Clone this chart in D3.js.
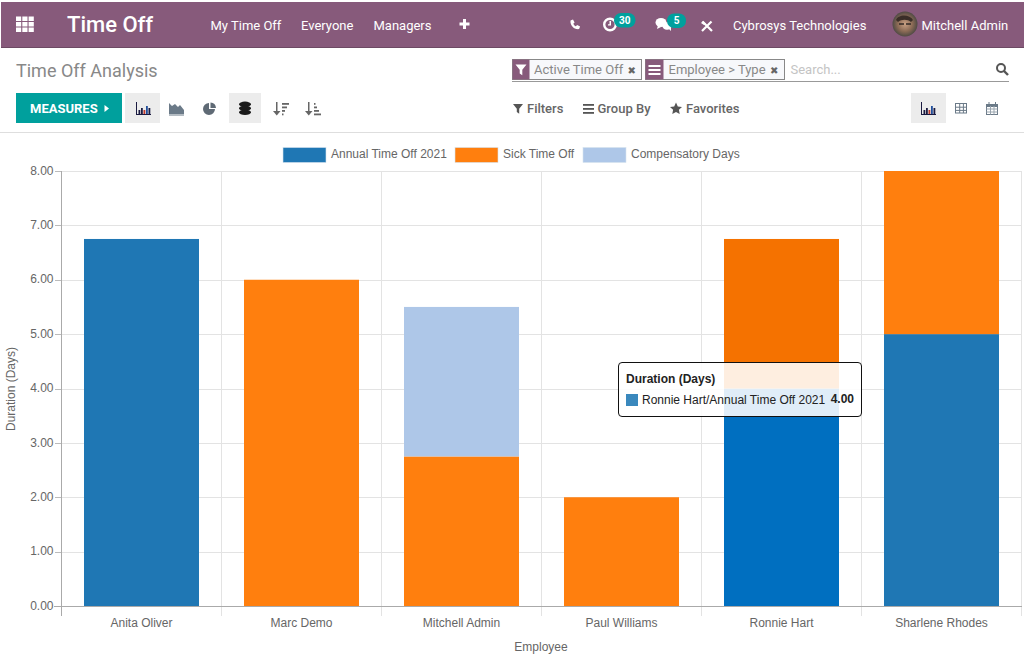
<!DOCTYPE html>
<html><head><meta charset="utf-8">
<script src="https://d3js.org/d3.v7.min.js"></script>
<style>
html,body{margin:0;padding:0;background:#fff;overflow:hidden}
svg{display:block}
.ui{font-family:Roboto,sans-serif}
.chart text{font-family:"Liberation Sans",Arial,sans-serif}
.axis text{font-size:12px;fill:#666}
.axis path,.axis line{shape-rendering:crispEdges}
</style></head><body>
<svg id="c" width="1024" height="660"></svg>
<script>
const categories = ["Anita Oliver","Marc Demo","Mitchell Admin","Paul Williams","Ronnie Hart","Sharlene Rhodes"];
const seriesNames = ["Annual Time Off 2021","Sick Time Off","Compensatory Days"];
const annualTimeOff = [6.75,0,0,0,4,5];
const sickTimeOff = [0,6,2.75,2,2.75,3];
const compensatoryDays = [0,0,2.75,0,0,0];
const seriesColors = ["#1f77b4","#ff7f0e","#aec7e8"];
const hoverColors = ["#006fc0","#f57200","#aec7e8"];
const hoveredCategory = "Ronnie Hart";
const yTicks = [0,1,2,3,4,5,6,7,8];
const menuItems = [["My Time Off",210.5],["Everyone",301],["Managers",373.5]];

const svg = d3.select("#c");
/* ---------- Odoo chrome ---------- */
const ui = svg.append("g").attr("class","ui");
const T=(s,x,y,size,fill,extra={})=>{const t=ui.append("text").text(s).attr("x",x).attr("y",y).attr("font-size",size).attr("fill",fill);
  Object.entries(extra).forEach(([k,v])=>t.attr(k,v));return t;};
const R=(x,y,w,h,fill,extra={})=>{const t=ui.append("rect").attr("x",x).attr("y",y).attr("width",w).attr("height",h).attr("fill",fill);
  Object.entries(extra).forEach(([k,v])=>t.attr(k,v));return t;};
const P=(d,fill,extra={})=>{const t=ui.append("path").attr("d",d).attr("fill",fill);
  Object.entries(extra).forEach(([k,v])=>t.attr(k,v));return t;};
R(1,2,1023,45.5,"#875a7b");
R(1,47,1023,1,"#6d4a64");
// apps grid
for(let i=0;i<3;i++)for(let j=0;j<3;j++)R(16+i*6.3,16.5+j*5.5,5.2,4.5,"#fff");
T("Time Off",67,32,22,"#fff",{"font-weight":500});
menuItems.forEach(m=>T(m[0],m[1],29.5,13,"#fff"));
P("M460 23h3.5v-3.5h3V23h3.500v3h-3.500v3.500h-3V26H460z","#fff",{transform:"translate(-0.5,-0.5)"});
// phone
P("M570.500 20.500l2.500-1 1.600 3-1.300 1.200c.5 1.200 1.400 2.100 2.600 2.600l1.200-1.300 3 1.600-1 2.500c-5 .6-9.200-3.600-8.600-8.600z","#fff");
// activity clock
ui.append("circle").attr("cx",610).attr("cy",24.500).attr("r",5.800).attr("fill","none").attr("stroke","#fff").attr("stroke-width",2.400);
P("M609.500 21h1.500v4.500h-3v-1.300h1.500z","#fff");
R(614,13,21.500,14.500,"#00a09d",{rx:7});
T("30",624.700,24,10,"#fff",{"text-anchor":"middle","font-weight":700});
// chat
ui.append("ellipse").attr("cx",661).attr("cy",22.500).attr("rx",5.500).attr("ry",4.500).attr("fill","#fff");
ui.append("ellipse").attr("cx",667).attr("cy",26).attr("rx",4.500).attr("ry",3.800).attr("fill","#fff");
P("M658 25l-1 4 4-2zM668 28l3 3 0-4z","#fff");
R(667,13.500,19,14.500,"#00a09d",{rx:7});
T("5",676.500,24,10,"#fff",{"text-anchor":"middle","font-weight":700});
// tools
P("M702.500 21.500l9.500 9.500M711.500 21.500l-9.500 9.500","none",{stroke:"#fff","stroke-width":2.200});
P("M701 23l2-2 3 3-2 1z","#fff");
T("Cybrosys Technologies",733,29.500,13,"#fff");
// avatar
const defs=svg.append("defs");
const g=defs.append("radialGradient").attr("id","av");
g.append("stop").attr("offset","0").attr("stop-color","#c9a184");
g.append("stop").attr("offset","0.6").attr("stop-color","#8a6a55");
g.append("stop").attr("offset","1").attr("stop-color","#4f4a44");
ui.append("circle").attr("cx",905).attr("cy",24).attr("r",12.500).attr("fill","url(#av)");
P("M896 20c2-6 14-6 17 0l-2 2c-3-3-10-3-13 0z","#3a2e28");
P("M899 24h5M906 24h5","none",{stroke:"#332a26","stroke-width":1.300});
T("Mitchell Admin",921.500,29.500,13,"#fff");
T("Time Off Analysis",16,76.500,18,"#888");
// facets
R(512,81,497,1,"#999");
R(512.500,59.500,129,20,"#f7f8fb",{stroke:"#888"});
R(512.500,59.500,17,20,"#875a7b");
P("M515.500 64.500h11l-4.200 5.200v5.500l-2.600-1.800v-3.700z","#fff");
T("Active Time Off",534,74,13,"#888");
T("✖",627.500,74,10,"#666",{"font-family":"DejaVu Sans"});
R(645.500,59.500,139,20,"#f7f8fb",{stroke:"#888"});
R(645.500,59.500,18,20,"#875a7b");
[65,69,73].forEach(y=>R(648.500,y,12,2,"#fff"));
T("Employee > Type",668.500,74,13,"#888");
T("✖",770,74,10,"#666",{"font-family":"DejaVu Sans"});
T("Search...",790.500,74,13,"#c4c4c4");
ui.append("circle").attr("cx",1001).attr("cy",68).attr("r",4).attr("fill","none").attr("stroke","#555").attr("stroke-width",2);
P("M1004 71l4 4","none",{stroke:"#555","stroke-width":2.400});
// Controls
R(16,93,106,30,"#00a09d");
T("MEASURES",30,113,13,"#fff",{"font-weight":700});
P("M104.500 105l4.500 3.500-4.500 3.500z","#fff");
R(125,93,35,30,"#ececec");
R(229,93,32,30,"#ececec");
const barIcon=(x,c)=>{R(x,102,1,12,c);R(x,114,15,1,c);[[2.500,4],[5,6],[7.500,4],[10,8],[12.500,6]].forEach((a,i)=>R(x+a[0],114-a[1],1.800,a[1],i==2?"#c0392b":i==3?"#1f4e9c":c));};
barIcon(136,"#1a1a40");
P("M169 114v-11l3 3 3-2 3 3 2-2 4 5v4z","#6b7a88");R(169,114.500,15,1,"#6b7a88");
P("M209 103a6 6 0 1 0 6 6h-6z","#5f6a75");P("M210.500 102.500a6 6 0 0 1 5.500 5.500h-5.500z","#5f6a75");
[[102.500],[106.500],[110.500]].forEach(a=>ui.append("ellipse").attr("cx",245).attr("cy",a[0]+1.800).attr("rx",6).attr("ry",2.700).attr("fill","#1a1a1a"));
const sortIcon=(x,wid)=>{R(x+3,102,1.500,11,"#666");P(`M${x} 111h7.500l-3.750 4.500z`,"#666");wid.forEach((w,i)=>R(x+9,103+i*3.500,w,1.800,"#666"));};
sortIcon(273,[7,5,3,1.500]);
sortIcon(305,[1.500,3,5,7]);
P("M513 104h10l-3.800 4.700v5l-2.400-1.700v-3.300z","#555");
T("Filters",527,113,13,"#666",{"font-weight":500});
[104,108,112].forEach(y=>R(583,y,11,1.800,"#555"));
T("Group By",597.500,113,13,"#666",{"font-weight":500});
P("M676 102.500l1.800 3.900 4.200.5-3.100 2.900.8 4.200-3.700-2.100-3.700 2.100.8-4.200-3.100-2.900 4.200-.5z","#555");
T("Favorites",686,113,13,"#666",{"font-weight":500});
R(911,93,35,30,"#ececec");
barIcon(921,"#1a1a40");
R(955.500,103.500,11,9.500,"none",{stroke:"#6b7a88"});
[106.700,109.900].forEach(y=>R(955.500,y,11,1,"#6b7a88"));
[959.200,962.900].forEach(x=>R(x,103.500,1,9.500,"#6b7a88"));
R(986.500,104.500,11,10,"none",{stroke:"#6b7a88"});R(986.500,104.500,11,2.500,"#6b7a88");
[988.500,995].forEach(x=>R(x,102,1,3,"#6b7a88"));
[108.500,111.500].forEach(y=>R(986.500,y,11,1,"#9aa5af"));
[990,993.500].forEach(x=>R(x,106,1,8.500,"#9aa5af"));
R(0,132,1024,1,"#dedede");

/* ---------- Chart ---------- */
const chart = svg.append("g").attr("class","chart");
const x = d3.scaleBand().domain(categories).range([61.5,1021.5]).paddingInner(45/160).paddingOuter(45/320);
const y = d3.scaleLinear().domain([0,8]).range([606,171]);
const seriesValues = [annualTimeOff,sickTimeOff,compensatoryDays];
const rows = categories.map((c,i)=>{const r={category:c};seriesNames.forEach((n,k)=>r[n]=seriesValues[k][i]);return r;});
const stacked = d3.stack().keys(seriesNames)(rows);

// horizontal grid
const yAxis = chart.append("g").attr("class","axis y").attr("transform","translate(61.5,0)")
  .call(d3.axisLeft(y).tickValues(yTicks).tickFormat(d3.format(".2f")).tickSize(7).tickPadding(1));
yAxis.select(".domain").remove();
yAxis.selectAll("line").attr("stroke","#bbb");
yAxis.selectAll("text").attr("dy","0").attr("dominant-baseline","middle");
chart.append("g").selectAll("line").data(yTicks.filter(d=>d>0)).join("line")
  .attr("x1",61.5).attr("x2",1021.5).attr("y1",d=>y(d)+.5).attr("y2",d=>y(d)+.5)
  .attr("stroke","#e3e3e3").attr("shape-rendering","crispEdges");
const xEdges = categories.map(c=>x(c)-x.step()*45/320).concat([1021.5]);
chart.append("g").selectAll("line").data(xEdges).join("line")
  .attr("x1",d=>d).attr("x2",d=>d).attr("y1",171).attr("y2",615.5)
  .attr("stroke",(d,i)=>i==0?"#aaa":"#e3e3e3").attr("shape-rendering","crispEdges");

stacked.forEach((s,k)=>{
  chart.append("g").selectAll("rect").data(s.filter(d=>d[1]>d[0])).join("rect")
    .attr("x",d=>x(d.data.category)).attr("width",x.bandwidth())
    .attr("y",d=>y(d[1])).attr("height",d=>y(d[0])-y(d[1]))
    .attr("fill",d=>d.data.category===hoveredCategory?hoverColors[k]:seriesColors[k]);
});
chart.append("line").attr("x1",54).attr("x2",1021.5).attr("y1",y(0)+.5).attr("y2",y(0)+.5).attr("stroke","#aaa").attr("shape-rendering","crispEdges");

const xAxis = chart.append("g").attr("class","axis x").attr("transform","translate(0,606)")
  .call(d3.axisBottom(x).tickSize(0).tickPadding(12));
xAxis.select(".domain").remove();

chart.append("text").text("Employee").attr("x",541).attr("y",651).attr("text-anchor","middle").attr("font-size",12).attr("fill","#666");
chart.append("text").text("Duration (Days)").attr("transform","translate(15,389) rotate(-90)").attr("text-anchor","middle").attr("font-size",12).attr("fill","#666");

// legend
const legendX=[283,455,583];
seriesNames.forEach((n,i)=>{
  chart.append("rect").attr("x",legendX[i]).attr("y",147.5).attr("width",43).attr("height",15).attr("fill",seriesColors[i]).attr("stroke","#d5e3ee").attr("stroke-width",.6);
  chart.append("text").text(n).attr("x",legendX[i]+48).attr("y",158).attr("font-size",12).attr("fill","#666");
});

// tooltip
const hi = categories.indexOf(hoveredCategory);
chart.append("rect").attr("x",618.5).attr("y",362.5).attr("width",243).attr("height",54).attr("rx",3.5)
  .attr("fill","#fff").attr("fill-opacity",.88).attr("stroke","#111");
chart.append("text").text("Duration (Days)").attr("x",626).attr("y",383).attr("font-size",12).attr("font-weight",700).attr("fill","#222");
chart.append("rect").attr("x",626).attr("y",394).attr("width",12).attr("height",12).attr("fill",seriesColors[0]).attr("fill-opacity",.88);
chart.append("text").text(`${hoveredCategory}/${seriesNames[0]}`).attr("x",642).attr("y",404).attr("font-size",12).attr("fill","#222");
chart.append("text").text(d3.format(".2f")(annualTimeOff[hi])).attr("x",854).attr("y",403).attr("text-anchor","end").attr("font-size",12).attr("font-weight",700).attr("fill","#222");
</script></body></html>
